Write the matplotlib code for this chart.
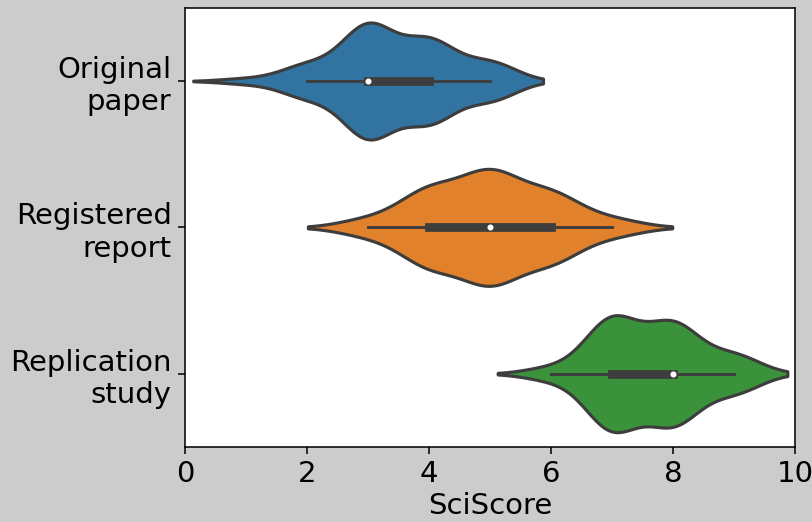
import matplotlib

matplotlib.use("Agg")
import matplotlib.pyplot as plt
import numpy as np
import pandas as pd
import seaborn as sns

# SciScore values (integer scale) and how many studies got each score
scores = [0, 1, 2, 3, 4, 5, 6, 7, 8, 9, 10]
groups = ["Original\npaper", "Registered\nreport", "Replication\nstudy"]
original_counts = [0, 1, 6, 21, 15, 7, 0, 0, 0, 0, 0]
registered_counts = [0, 0, 0, 2, 9, 13, 8, 2, 0, 0, 0]
replication_counts = [0, 0, 0, 0, 0, 0, 1, 9, 8, 3, 0]

DPI = 140


def build_frame():
    """Expand the score counts into one row per study."""
    rows = []
    for group, counts in zip(groups, [original_counts, registered_counts, replication_counts]):
        values = np.repeat(scores, counts)
        rows.append(pd.DataFrame({"group": group, "SciScore": values}))
    return pd.concat(rows, ignore_index=True)


def plot_violins(output_file):
    df = build_frame()

    fig = plt.figure(figsize=(812 / DPI, 522 / DPI), dpi=DPI, facecolor="#cccccc")
    ax = fig.add_axes([0.228, 0.144, 0.751, 0.841])

    sns.violinplot(
        data=df,
        x="SciScore",
        y="group",
        hue="group",
        order=groups,
        hue_order=groups,
        legend=False,
        linewidth=1.6,
        linecolor="#3d3d3d",
        inner_kws=dict(
            box_width=4.5,
            whis_width=1.5,
            marker="o",
            markersize=2.2,
            markerfacecolor="white",
            markeredgecolor="white",
        ),
        ax=ax,
    )

    # Axis cosmetics
    ax.set_xlim(0, 10)
    ax.set_xticks([0, 2, 4, 6, 8, 10])
    ax.set_xlabel("SciScore", fontsize=15, labelpad=2)
    ax.set_ylabel("")
    ax.tick_params(axis="both", labelsize=15)

    fig.savefig(output_file, dpi=DPI, facecolor=fig.get_facecolor())


if __name__ == "__main__":
    plot_violins("out.png")
